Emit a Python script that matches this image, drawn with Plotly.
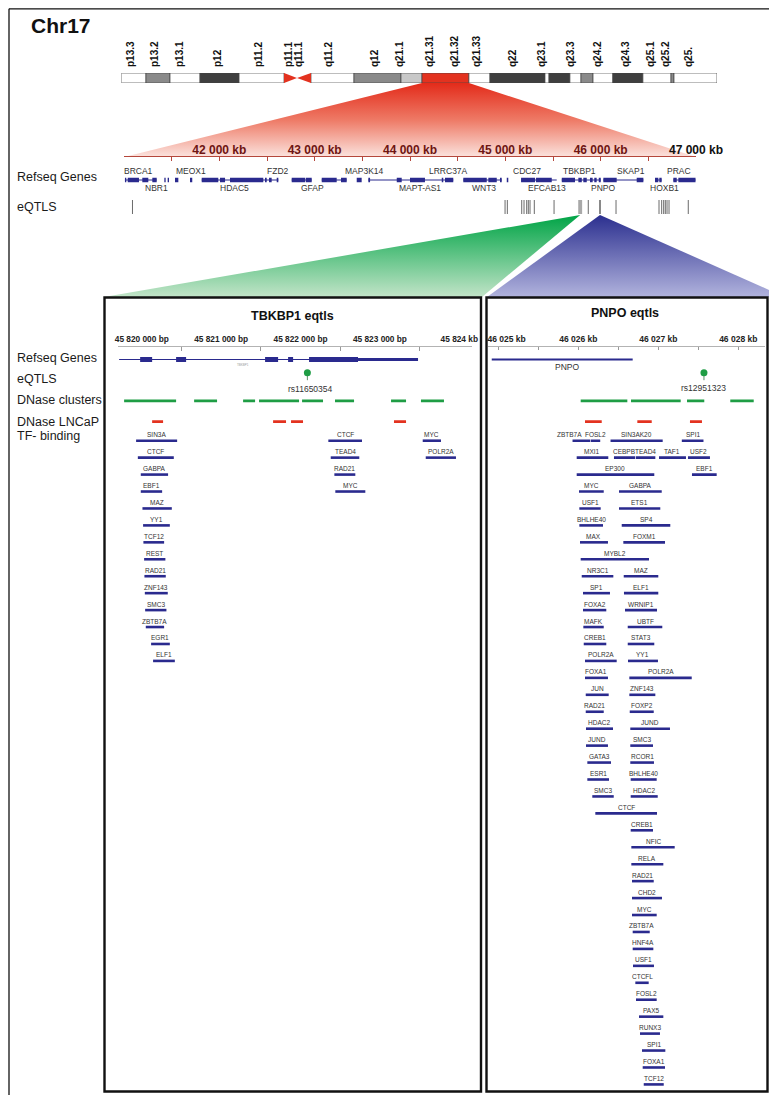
import plotly.graph_objects as go

W, H = 777, 1095
FONT = "Liberation Sans, Arial, Helvetica, sans-serif"
NAVY = "#2a2a8e"
GREEN = "#1f9d45"
RED = "#e3321f"
MAROON = "#6e1512"

# ======================= DATA =======================
# --- Chromosome 17 ideogram (Mb) ---
band_start = [0.0, 3.35, 6.63, 10.72, 16.04, 22.17, 23.94, 25.85, 31.71, 38.12, 40.98,
              47.38, 50.25, 57.75, 58.30, 61.15, 62.66, 64.30, 67.00, 71.10, 74.93, 75.34]
band_end = [3.35, 6.63, 10.72, 16.04, 22.17, 23.94, 25.85, 31.71, 38.12, 40.98, 47.38,
            50.25, 57.75, 58.30, 61.15, 62.66, 64.30, 67.00, 71.10, 74.93, 75.34, 81.20]
band_stain = ["gneg", "gpos50", "gneg", "gpos75", "gneg", "acen_p", "acen_q", "gneg", "gpos50",
              "gpos25", "select", "gneg", "gpos75", "gneg", "gpos75", "gneg", "gpos50", "gneg",
              "gpos75", "gneg", "gpos50", "gneg"]
band_label = ["p13.3", "p13.2", "p13.1", "p12", "p11.2", "p11.1", "q11.1", "q11.2", "q12",
              "q21.1", "q21.31", "q21.32", "q21.33", "q22", "q23.1", "q23.3", "q24.2", "q24.3",
              "q25.1", "q25.2", "q25."]
band_label_mb = [1.30, 4.58, 7.99, 13.17, 18.76, 22.85, 24.21, 28.30, 34.57, 37.98, 42.07,
                 45.48, 48.48, 53.39, 57.29, 61.30, 64.98, 68.80, 72.15, 74.18, 77.38]

# --- zoomed region 17q21.31-q21.33 (kb) ---
zoom_range_kb = [41000, 47000]
zoom_tick_kb = [42000, 43000, 44000, 45000, 46000, 47000]
zoom_tick_text = ["42 000 kb", "43 000 kb", "44 000 kb", "45 000 kb", "46 000 kb", "47 000 kb"]
zoom_minor_kb = [41500, 42500, 43500, 44500, 45500, 46500]

refseq_exon_start = [41010, 41039, 41192, 41297, 41423, 41458, 41535, 41692, 41815, 42007, 42112,
                     42479, 42521, 42602, 42759, 42906, 43074, 43276, 43441, 43563, 43861, 44000,
                     44333, 44367, 44559, 44822, 44944, 45015, 45165, 45322, 45592, 45766, 45818,
                     45888, 45933, 45980, 46028, 46378, 46570, 46615, 46762, 46815]
refseq_exon_end = [41024, 41157, 41255, 41343, 41437, 41472, 41570, 41716, 41989, 42060, 42461,
                   42497, 42549, 42619, 42899, 42969, 43231, 43336, 43493, 43581, 43913, 44157,
                   44349, 44454, 44805, 44910, 44962, 45031, 45312, 45487, 45731, 45802, 45854,
                   45916, 45958, 46001, 46168, 46448, 46605, 46640, 46798, 46995]
refseq_line_start = [41010, 41815, 42759, 43074, 43563, 44559, 45165, 45592, 46028, 46570, 46762]
refseq_line_end = [41343, 42619, 42969, 43336, 44454, 44962, 45539, 46001, 46448, 46640, 46995]

gene_top_names = ["BRCA1", "MEOX1", "FZD2", "MAP3K14", "LRRC37A", "CDC27", "TBKBP1", "SKAP1", "PRAC"]
gene_top_kb = [41147, 41703, 42615, 43523, 44409, 45227, 45773, 46318, 46822]
gene_bot_names = ["NBR1", "HDAC5", "GFAP", "MAPT-AS1", "WNT3", "EFCAB13", "PNPO", "HOXB1"]
gene_bot_kb = [41336, 42154, 42977, 44105, 44776, 45437, 46025, 46665]

eqtl_kb = [41089, 44997, 45021, 45172, 45196, 45224, 45241, 45259, 45304, 45511, 45776, 45794,
           45870, 45993, 46161, 46612, 46640, 46661, 46678, 46696, 46717, 46919]
eqtl_group = ["n", "n", "n", "n", "n", "n", "n", "n", "n", "n", "tbkbp1", "tbkbp1",
              "n", "pnpo", "n", "n", "n", "n", "n", "n", "n", "n"]

# --- TBKBP1 panel (bp) ---
tbk_range_bp = [45819700, 45824160]
tbk_tick_bp = [45820000, 45821000, 45822000, 45823000, 45824000]
tbk_tick_text = ["45 820 000 bp", "45 821 000 bp", "45 822 000 bp", "45 823 000 bp", "45 824 kb"]
tbk_minor_bp = [45820500, 45821500, 45822500, 45823500]
tbk_gene_span = [45819714, 45823480]
tbk_exon_start = [45819979, 45820432, 45821553, 45821843, 45822107]
tbk_exon_end = [45820130, 45820558, 45821717, 45821906, 45822724]
tbk_utr = [45822724, 45823480]
tbk_eqtl_bp = 45822086
tbk_eqtl_name = "rs11650354"
tbk_dnase_start = [45819777, 45820659, 45821276, 45821477, 45822019, 45822434, 45823140, 45823517]
tbk_dnase_end = [45820432, 45820948, 45821427, 45821981, 45822283, 45822674, 45823329, 45823807]
tbk_lncap_start = [45820130, 45821654, 45821880, 45823177]
tbk_lncap_end = [45820268, 45821817, 45822031, 45823329]
tbk_tf_name = ["SIN3A", "CTCF", "GABPA", "EBF1", "MAZ", "YY1", "TCF12", "REST", "RAD21", "ZNF143",
               "SMC3", "ZBTB7A", "EGR1", "ELF1", "CTCF", "TEAD4", "RAD21", "MYC", "MYC", "POLR2A"]
tbk_tf_start = [45819928, 45819950, 45819987, 45819987, 45820008, 45820016, 45820020, 45820029,
                45820033, 45820038, 45820042, 45820050, 45820117, 45820142, 45822350, 45822380,
                45822426, 45822438, 45823539, 45823577]
tbk_tf_end = [45820445, 45820403, 45820331, 45820256, 45820378, 45820353, 45820281, 45820297,
              45820302, 45820327, 45820310, 45820281, 45820353, 45820416, 45822774, 45822740,
              45822690, 45822816, 45823769, 45823958]
tbk_tf_lane = [0, 1, 2, 3, 4, 5, 6, 7, 8, 9, 10, 11, 12, 13, 0, 1, 2, 3, 0, 1]

# --- PNPO panel (kb) ---
pnpo_range_kb = [46024.875, 46028.334]
pnpo_tick_kb = [46025, 46026, 46027, 46028]
pnpo_tick_text = ["46 025 kb", "46 026 kb", "46 027 kb", "46 028 kb"]
pnpo_minor_kb = [46025.5, 46026.5, 46027.5]
pnpo_gene_span = [46024.918, 46026.680]
pnpo_eqtl_kb = 46027.571
pnpo_eqtl_name = "rs12951323"
pnpo_dnase_start = [46026.030, 46026.659, 46027.359, 46027.900]
pnpo_dnase_end = [46026.613, 46027.280, 46027.575, 46028.193]
pnpo_lncap_start = [46026.084, 46026.738, 46027.396]
pnpo_lncap_end = [46026.293, 46026.918, 46027.546]
pnpo_tf_name = ["ZBTB7A", "FOSL2", "SIN3AK20", "SPI1",
                "MXI1", "CEBPB", "TEAD4", "TAF1", "USF2",
                "EP300", "EBF1", "MYC", "GABPA", "USF1", "ETS1", "BHLHE40", "SP4", "MAX", "FOXM1",
                "MYBL2", "NR3C1", "MAZ", "SP1", "ELF1", "FOXA2", "WRNIP1", "MAFK", "UBTF",
                "CREB1", "STAT3", "POLR2A", "YY1", "FOXA1", "POLR2A", "JUN", "ZNF143",
                "RAD21", "FOXP2", "HDAC2", "JUND", "JUND", "SMC3", "GATA3", "RCOR1",
                "ESR1", "BHLHE40", "SMC3", "HDAC2", "CTCF", "CREB1", "NFIC", "RELA", "RAD21",
                "CHD2", "MYC", "ZBTB7A", "HNF4A", "USF1", "CTCFL", "FOSL2", "PAX5", "RUNX3",
                "SPI1", "FOXA1", "TCF12"]
pnpo_tf_start = [46025.928, 46026.156, 46026.403, 46027.294,
                 46025.980, 46026.446, 46026.718, 46027.009, 46027.371,
                 46025.980, 46027.421, 46026.009, 46026.509, 46026.013, 46026.509, 46026.013,
                 46026.543, 46026.021, 46026.563, 46026.030, 46026.043, 46026.568, 46026.059,
                 46026.571, 46026.059, 46026.584, 46026.063, 46026.618, 46026.068, 46026.618,
                 46026.084, 46026.621, 46026.084, 46026.638, 46026.093, 46026.638, 46026.093,
                 46026.643, 46026.096, 46026.650, 46026.096, 46026.650, 46026.113, 46026.650,
                 46026.113, 46026.655, 46026.175, 46026.655, 46026.213, 46026.655, 46026.663,
                 46026.663, 46026.671, 46026.671, 46026.671, 46026.680, 46026.680, 46026.684,
                 46026.713, 46026.721, 46026.759, 46026.771, 46026.796, 46026.805, 46026.818]
pnpo_tf_end = [46026.149, 46026.274, 46027.055, 46027.565,
               46026.375, 46026.709, 46026.963, 46027.346, 46027.646,
               46026.950, 46027.730, 46026.318, 46027.043, 46026.280, 46027.025, 46026.309,
               46027.150, 46026.371, 46027.084, 46026.884, 46026.438, 46027.000, 46026.396,
               46027.000, 46026.350, 46026.984, 46026.318, 46027.050, 46026.350, 46026.950,
               46026.480, 46026.996, 46026.371, 46027.418, 46026.380, 46026.963, 46026.318,
               46026.943, 46026.434, 46027.146, 46026.371, 46026.934, 46026.409, 46026.946,
               46026.384, 46026.980, 46026.443, 46026.993, 46026.984, 46026.934, 46027.205,
               46027.063, 46026.943, 46027.046, 46026.980, 46026.893, 46026.938, 46026.946,
               46026.880, 46026.980, 46027.063, 46027.021, 46027.088, 46027.084, 46027.068]
pnpo_tf_lane = [0, 0, 0, 0, 1, 1, 1, 1, 1, 2, 2, 3, 3, 4, 4, 5, 5, 6, 6, 7, 8, 8, 9, 9,
                10, 10, 11, 11, 12, 12, 13, 13, 14, 14, 15, 15, 16, 16, 17, 17, 18, 18,
                19, 19, 20, 20, 21, 21, 22, 23, 24, 25, 26, 27, 28, 29, 30, 31, 32, 33,
                34, 35, 36, 37, 38]

# ======================= LAYOUT HELPERS (design pixels) =======================
# The page body adds an 8px margin, so design pixels are shifted back by OFF.
OFF = 8.0


def xdom(a, b):
    return [(a - OFF) / W, (b - OFF) / W]


def ydom(top, bot):
    return [1 - (bot - OFF) / H, 1 - (top - OFF) / H]


def px(x):
    return (x - OFF) / W


def py(y):
    return 1 - (y - OFF) / H


def lanes(top, bot, y0, step):
    return [(bot - y0) / step, (top - y0) / step]


def to_px(v, dom_px, rng):
    return dom_px[0] + (v - rng[0]) / (rng[1] - rng[0]) * (dom_px[1] - dom_px[0])


def segs(starts, ends, y):
    xs, ys = [], []
    for s, e in zip(starts, ends):
        xs += [s, e, None]
        ys += [y, y, None]
    return xs, ys


IDEO_X = (121.4, 717.0)
IDEO_Y = (73.0, 83.0)
ZOOM_X = (124.0, 696.0)
ZOOM_AXIS_Y = 157.0
LEFT_X = (118.0, 472.0)
RIGHT_X = (488.3, 765.0)
RIGHT_EDGE = 767.5

fig = go.Figure()

# ======================= DECORATION (canvas axis in design pixels) =======================
sel = band_stain.index("select")
r_tl = to_px(band_start[sel], IDEO_X, [0, 81.2])
r_tr = to_px(band_end[sel], IDEO_X, [0, 81.2])
r_bl = to_px(zoom_range_kb[0], ZOOM_X, zoom_range_kb)
r_br = to_px(zoom_range_kb[1], ZOOM_X, zoom_range_kb)
fig.add_trace(go.Scatter(x=[r_tl, r_tr, r_br, r_bl, r_tl], y=[IDEO_Y[1], IDEO_Y[1], ZOOM_AXIS_Y, ZOOM_AXIS_Y, IDEO_Y[1]],
                         mode="lines", line=dict(width=0), fill="toself",
                         fillgradient=dict(type="vertical", start=IDEO_Y[1], stop=ZOOM_AXIS_Y,
                                           colorscale=[[0, "#e32b1a"], [0.5, "#ee7a66"], [1, "#fbe3de"]]),
                         hoverinfo="skip", showlegend=False, xaxis="x", yaxis="y"))

tbk_apex = sum(k for k, g in zip(eqtl_kb, eqtl_group) if g == "tbkbp1") / eqtl_group.count("tbkbp1")
pnpo_apex = [k for k, g in zip(eqtl_kb, eqtl_group) if g == "pnpo"][0]
ax_g = to_px(tbk_apex, ZOOM_X, zoom_range_kb)
ax_b = to_px(pnpo_apex, ZOOM_X, zoom_range_kb)
APEX_Y, PANEL_TOP = 215.0, 297.0
fig.add_trace(go.Scatter(x=[ax_g, 482, 104, ax_g], y=[APEX_Y, PANEL_TOP, PANEL_TOP, APEX_Y],
                         mode="lines", line=dict(width=0), fill="toself",
                         fillgradient=dict(type="vertical", start=APEX_Y, stop=PANEL_TOP,
                                           colorscale=[[0, "#00a446"], [1, "#c2e4c8"]]),
                         hoverinfo="skip", showlegend=False, xaxis="x", yaxis="y"))
fig.add_trace(go.Scatter(x=[ax_b, 785, 487, ax_b], y=[APEX_Y, PANEL_TOP, PANEL_TOP, APEX_Y],
                         mode="lines", line=dict(width=0), fill="toself",
                         fillgradient=dict(type="vertical", start=APEX_Y, stop=PANEL_TOP,
                                           colorscale=[[0, "#2b2f8f"], [1, "#b1b3dd"]]),
                         hoverinfo="skip", showlegend=False, xaxis="x", yaxis="y"))

# ======================= IDEOGRAM =======================
stain_color = {"gneg": "#ffffff", "gpos25": "#c8c8c8", "gpos50": "#8a8a8a", "gpos75": "#3f3f3f", "select": RED}
bi = [i for i, s in enumerate(band_stain) if not s.startswith("acen")]
fig.add_trace(go.Bar(orientation="h", base=[band_start[i] for i in bi],
                     x=[band_end[i] - band_start[i] for i in bi], y=[0] * len(bi), width=1,
                     marker=dict(color=[stain_color[band_stain[i]] for i in bi],
                                 line=dict(color="#444444", width=0.7)),
                     hoverinfo="skip", showlegend=False, xaxis="x2", yaxis="y2"))
for i, s in enumerate(band_stain):
    if s == "acen_p":
        xs, ys = [band_start[i], band_start[i], band_end[i], band_start[i]], [-0.5, 0.5, 0, -0.5]
    elif s == "acen_q":
        xs, ys = [band_end[i], band_end[i], band_start[i], band_end[i]], [-0.5, 0.5, 0, -0.5]
    else:
        continue
    fig.add_trace(go.Scatter(x=xs, y=ys, fill="toself", fillcolor=RED, mode="lines",
                             line=dict(width=0), hoverinfo="skip", showlegend=False,
                             xaxis="x2", yaxis="y2"))

# ======================= ZOOM TRACKS =======================
xs, ys = segs(refseq_line_start, refseq_line_end, 0)
fig.add_trace(go.Scatter(x=xs, y=ys, mode="lines", line=dict(color=NAVY, width=1),
                         hoverinfo="skip", showlegend=False, xaxis="x3", yaxis="y3"))
xs, ys = segs(refseq_exon_start, refseq_exon_end, 0)
fig.add_trace(go.Scatter(x=xs, y=ys, mode="lines", line=dict(color=NAVY, width=4.5),
                         hoverinfo="skip", showlegend=False, xaxis="x3", yaxis="y3"))
eq_style = {"n": ("#6a6a6a", 1.0), "tbkbp1": ("#a9a9a9", 2.2), "pnpo": ("#3a3a3a", 1.2)}
for grp in ["n", "tbkbp1", "pnpo"]:
    kx = [k for k, g in zip(eqtl_kb, eqtl_group) if g == grp]
    fig.add_trace(go.Scatter(x=kx, y=[1] * len(kx), mode="markers",
                             marker=dict(symbol="line-ns-open", size=10, color=eq_style[grp][0],
                                         line=dict(color=eq_style[grp][0], width=eq_style[grp][1])),
                             hoverinfo="skip", showlegend=False, xaxis="x3", yaxis="y3"))

# ======================= PANELS =======================
STEM = 0.36  # lollipop stem length in track rows


def panel_tracks(xa, span, exs, exe, utr, eq, dn_s, dn_e, ln_s, ln_e, gene_w):
    xs_, ys_ = segs([span[0]], [span[1]], 0)
    fig.add_trace(go.Scatter(x=xs_, y=ys_, mode="lines", line=dict(color=NAVY, width=gene_w),
                             hoverinfo="skip", showlegend=False, xaxis=xa, yaxis="y4"))
    if exs:
        xs_, ys_ = segs(exs, exe, 0)
        fig.add_trace(go.Scatter(x=xs_, y=ys_, mode="lines", line=dict(color=NAVY, width=5),
                                 hoverinfo="skip", showlegend=False, xaxis=xa, yaxis="y4"))
    if utr:
        xs_, ys_ = segs([utr[0]], [utr[1]], 0)
        fig.add_trace(go.Scatter(x=xs_, y=ys_, mode="lines", line=dict(color=NAVY, width=3.2),
                                 hoverinfo="skip", showlegend=False, xaxis=xa, yaxis="y4"))
    fig.add_trace(go.Scatter(x=[eq, eq], y=[1, 1 - STEM], mode="lines",
                             line=dict(color="#5f8f6a", width=1),
                             hoverinfo="skip", showlegend=False, xaxis=xa, yaxis="y4"))
    fig.add_trace(go.Scatter(x=[eq], y=[1 - STEM], mode="markers",
                             marker=dict(color=GREEN, size=7), cliponaxis=False,
                             hoverinfo="skip", showlegend=False, xaxis=xa, yaxis="y4"))
    xs_, ys_ = segs(dn_s, dn_e, 2)
    fig.add_trace(go.Scatter(x=xs_, y=ys_, mode="lines", line=dict(color=GREEN, width=2.8),
                             hoverinfo="skip", showlegend=False, xaxis=xa, yaxis="y4"))
    xs_, ys_ = segs(ln_s, ln_e, 3)
    fig.add_trace(go.Scatter(x=xs_, y=ys_, mode="lines", line=dict(color=RED, width=2.8),
                             hoverinfo="skip", showlegend=False, xaxis=xa, yaxis="y4"))


panel_tracks("x4", tbk_gene_span, tbk_exon_start, tbk_exon_end, tbk_utr, tbk_eqtl_bp,
             tbk_dnase_start, tbk_dnase_end, tbk_lncap_start, tbk_lncap_end, 1)
panel_tracks("x5", pnpo_gene_span, [], [], None, pnpo_eqtl_kb,
             pnpo_dnase_start, pnpo_dnase_end, pnpo_lncap_start, pnpo_lncap_end, 2.2)

annotations = []
for xa, nm, st, en, ln in [("x4", tbk_tf_name, tbk_tf_start, tbk_tf_end, tbk_tf_lane),
                           ("x5", pnpo_tf_name, pnpo_tf_start, pnpo_tf_end, pnpo_tf_lane)]:
    xs, ys = [], []
    for s, e, l in zip(st, en, ln):
        xs += [s, e, None]
        ys += [l, l, None]
    fig.add_trace(go.Scatter(x=xs, y=ys, mode="lines", line=dict(color=NAVY, width=2.6),
                             hoverinfo="skip", showlegend=False, xaxis=xa, yaxis="y6"))
    for n, s, e, l in zip(nm, st, en, ln):
        nudge = -12 if (xa == "x5" and n == "ZBTB7A" and l == 0) else 0
        annotations.append(dict(x=(s + e) / 2, y=l, xref=xa, yref="y6", text=n, showarrow=False,
                                xanchor="center", yanchor="middle", yshift=6, xshift=nudge,
                                font=dict(family=FONT, size=6.5, color="#333333")))

# ======================= TEXT =======================
annotations.append(dict(x=px(61), y=py(25), xref="paper", yref="paper", text="<b>Chr17</b>",
                        showarrow=False, xanchor="center", yanchor="middle",
                        font=dict(family=FONT, size=21, color="#111111")))
for nm, k in zip(gene_top_names, gene_top_kb):
    annotations.append(dict(x=k, y=0, xref="x3", yref="y3", text=nm, showarrow=False, yshift=8.5,
                            xanchor="center", yanchor="middle",
                            font=dict(family=FONT, size=8.5, color="#333333")))
for nm, k in zip(gene_bot_names, gene_bot_kb):
    annotations.append(dict(x=k, y=0, xref="x3", yref="y3", text=nm, showarrow=False, yshift=-8.5,
                            xanchor="center", yanchor="middle",
                            font=dict(family=FONT, size=8.5, color="#333333")))

row_font = dict(family=FONT, size=12.5, color="#1a1a1a")
for txt, yr, yv, sh in [("Refseq Genes", "y3", 0, 3), ("eQTLS", "y3", 1, 0),
                        ("Refseq Genes", "y4", 0, 1), ("eQTLS", "y4", 1, 1),
                        ("DNase clusters", "y4", 2, 1), ("DNase LNCaP", "y4", 3, 0),
                        ("TF- binding", "y6", 0, 5)]:
    annotations.append(dict(x=px(15), y=yv, xref="paper", yref=yr, text=txt, showarrow=False,
                            xanchor="left", yanchor="middle", yshift=sh, font=row_font))

annotations.append(dict(x=px(292), y=py(316), xref="paper", yref="paper", text="<b>TBKBP1 eqtls</b>",
                        showarrow=False, xanchor="center", yanchor="middle",
                        font=dict(family=FONT, size=12.5, color="#111111")))
annotations.append(dict(x=px(625), y=py(313.5), xref="paper", yref="paper", text="<b>PNPO eqtls</b>",
                        showarrow=False, xanchor="center", yanchor="middle",
                        font=dict(family=FONT, size=12.5, color="#111111")))
annotations.append(dict(x=tbk_eqtl_bp, y=1, xref="x4", yref="y4", text=tbk_eqtl_name, showarrow=False,
                        xanchor="center", yanchor="middle",
                        yshift=-8.5, xshift=3, font=dict(family=FONT, size=8.5, color="#333333")))
annotations.append(dict(x=pnpo_eqtl_kb, y=1, xref="x5", yref="y4", text=pnpo_eqtl_name, showarrow=False,
                        xanchor="center", yanchor="middle",
                        yshift=-7.5, font=dict(family=FONT, size=8.5, color="#333333")))
annotations.append(dict(x=sum(pnpo_gene_span) / 2, y=0, xref="x5", yref="y4", text="PNPO", showarrow=False,
                        xanchor="center", yanchor="middle",
                        yshift=-8, xshift=5, font=dict(family=FONT, size=8.5, color="#333333")))
annotations.append(dict(x=sum(tbk_gene_span) / 2, y=0, xref="x4", yref="y4", text="TBKBP1", showarrow=False,
                        xanchor="center", yanchor="middle",
                        yshift=-5.5, xshift=-26, font=dict(family=FONT, size=3, color="#9a9a9a")))

# ======================= FRAMES =======================
shapes = [
    dict(type="line", xref="x", yref="y", x0=9, y0=8.8, x1=W + OFF, y1=8.8,
         line=dict(color="#111111", width=1.3), layer="above"),
    dict(type="line", xref="x", yref="y", x0=9, y0=8.8, x1=9, y1=H + OFF,
         line=dict(color="#111111", width=1.3), layer="above"),
    dict(type="rect", xref="x", yref="y", x0=104.5, y0=297.5, x1=481, y1=1091.5,
         line=dict(color="#111111", width=2.4), layer="above"),
    dict(type="rect", xref="x", yref="y", x0=486.5, y0=297.5, x1=RIGHT_EDGE, y1=1091.5,
         line=dict(color="#111111", width=2.4), layer="above"),
]

zoom_text = [f'<b><span style="color:{MAROON}">{t}</span></b>' for t in zoom_tick_text[:-1]] + \
            [f"<b>{zoom_tick_text[-1]}</b>"]
pnpo_text = ["&nbsp;" * 7 + f"<b>{pnpo_tick_text[0]}</b>"] + [f"<b>{t}</b>" for t in pnpo_tick_text[1:]]
hidden = dict(visible=False, showgrid=False, zeroline=False, fixedrange=True, automargin=False)

fig.update_layout(
    template="none",
    width=W, height=H, margin=dict(l=0, r=0, t=0, b=0, pad=0, autoexpand=False), autosize=False,
    paper_bgcolor="white", plot_bgcolor="rgba(0,0,0,0)",
    barmode="overlay", showlegend=False, font=dict(family=FONT),
    xaxis=dict(domain=[0, 1], range=[OFF, W + OFF], **hidden),
    yaxis=dict(domain=[0, 1], range=[H + OFF, OFF], **hidden),
    xaxis2=dict(domain=xdom(*IDEO_X), range=[0, 81.2], anchor="y2", side="top", automargin=False,
                tickmode="array", tickvals=band_label_mb, ticktext=[f"<b>{t}</b>" for t in band_label],
                tickangle=-90, ticks="", ticklabelstandoff=5, showgrid=False, zeroline=False,
                showline=False, tickfont=dict(family=FONT, size=10, color="#111111")),
    yaxis2=dict(domain=ydom(*IDEO_Y), range=[0.5, -0.5], anchor="x2", **hidden),
    xaxis3=dict(domain=xdom(*ZOOM_X), range=zoom_range_kb, anchor="y3", side="top", automargin=False,
                tickmode="array", tickvals=zoom_tick_kb, ticktext=zoom_text,
                ticks="inside", ticklen=4, tickcolor="#b5473c", tickwidth=1,
                showline=True, linecolor="#b5473c", linewidth=1, showgrid=False, zeroline=False,
                ticklabelstandoff=-3,
                minor=dict(tickmode="array", tickvals=zoom_minor_kb, ticks="inside", ticklen=4,
                           tickcolor="#b5473c", tickwidth=1, showgrid=False),
                tickfont=dict(family=FONT, size=12, color="#111111")),
    yaxis3=dict(domain=ydom(ZOOM_AXIS_Y, 222), range=lanes(ZOOM_AXIS_Y, 222, 180, 27), anchor="x3", **hidden),
    xaxis4=dict(domain=xdom(*LEFT_X), range=tbk_range_bp, anchor="y4", side="top", automargin=False,
                tickmode="array", tickvals=tbk_tick_bp, ticktext=[f"<b>{t}</b>" for t in tbk_tick_text],
                ticks="", showline=True, linecolor="#b3b3b3", linewidth=1, showgrid=False,
                zeroline=False, ticklabelstandoff=0,
                minor=dict(tickmode="array", tickvals=tbk_minor_bp, ticks="inside", ticklen=4,
                           tickcolor="#999999", tickwidth=1, showgrid=False),
                tickfont=dict(family=FONT, size=8.3, color="#222222")),
    xaxis5=dict(domain=xdom(*RIGHT_X), range=pnpo_range_kb, anchor="y4", side="top", automargin=False,
                tickmode="array", tickvals=pnpo_tick_kb, ticktext=pnpo_text,
                ticks="inside", ticklen=3, tickcolor="#999999", tickwidth=1,
                showline=True, linecolor="#b3b3b3", linewidth=1, showgrid=False,
                zeroline=False, ticklabelstandoff=0,
                minor=dict(tickmode="array", tickvals=pnpo_minor_kb, ticks="inside", ticklen=3,
                           tickcolor="#999999", tickwidth=1, showgrid=False),
                tickfont=dict(family=FONT, size=8.5, color="#222222")),
    yaxis4=dict(domain=ydom(346.5, 432), range=lanes(346.5, 432, 359.5, 20.7), anchor="x4", **hidden),
    yaxis6=dict(domain=ydom(430, 1093), range=lanes(430, 1093, 440.7, 16.94), anchor="x4", **hidden),
    annotations=annotations,
    shapes=shapes,
)

fig.write_html("out.html")
